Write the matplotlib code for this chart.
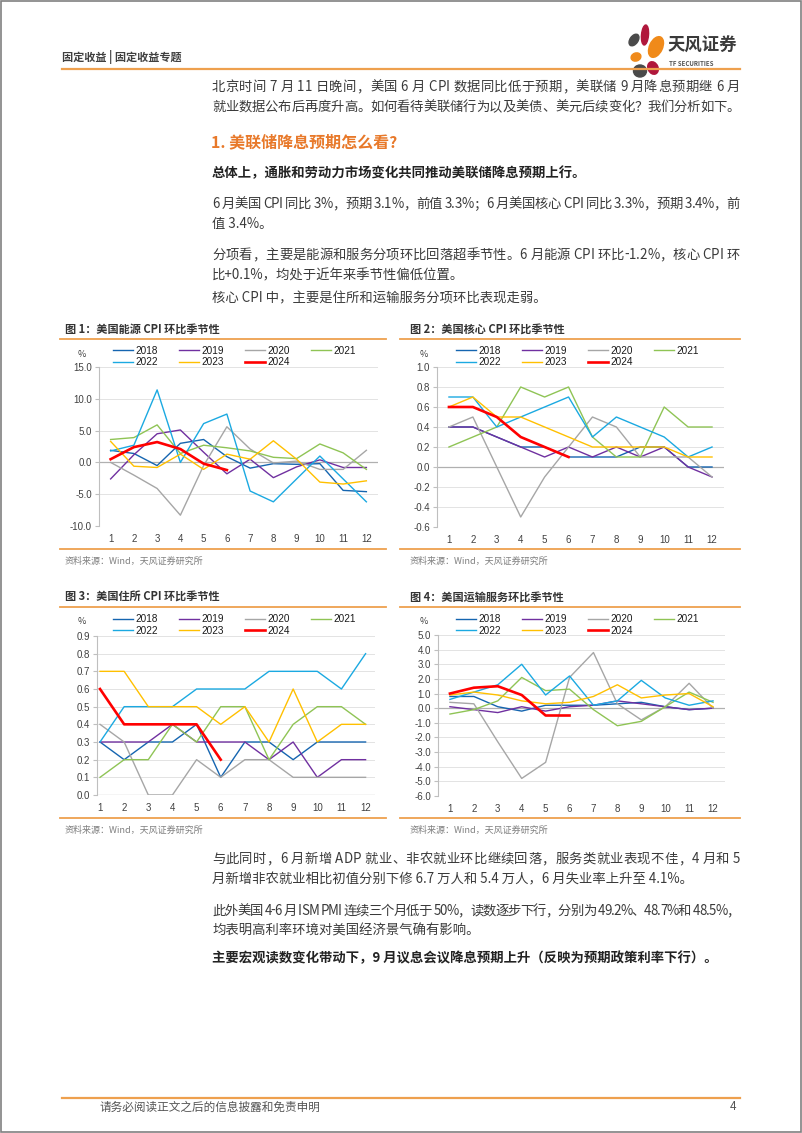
import matplotlib.pyplot as plt
from matplotlib.patches import Ellipse, Rectangle
from matplotlib.lines import Line2D

plt.rcParams['font.family'] = ['Noto Sans CJK SC', 'DejaVu Sans']

months = list(range(1, 13))
years = ['2018', '2019', '2020', '2021', '2022', '2023', '2024']
year_colors = ['#1565b0', '#7030a0', '#a6a6a6', '#8fc455', '#1ba9e1', '#ffc000', '#ff0000']

energy = {
    '2018': [1.9, 1.4, -0.5, 3.0, 3.6, 0.9, -0.9, -0.2, -0.3, -0.2, -4.4, -4.6],
    '2019': [-2.6, 1.2, 4.5, 5.1, 1.6, -1.8, 0.5, -2.4, -0.7, 0.4, -0.8, -0.8],
    '2020': [0.0, -2.0, -4.1, -8.3, -0.5, 5.6, 2.1, -0.1, 0.2, -1.1, -1.1, 1.9],
    '2021': [3.6, 3.9, 5.9, 1.4, 2.7, 2.3, 1.8, 0.8, 0.6, 2.9, 1.5, -1.1],
    '2022': [1.8, 2.7, 11.4, 0.0, 6.1, 7.6, -4.5, -6.2, -2.6, 1.0, -2.6, -6.2],
    '2023': [3.3, -0.6, -0.8, 1.3, -1.1, 1.3, 0.5, 3.4, 0.5, -3.1, -3.4, -2.9],
    '2024': [0.5, 2.4, 3.2, 2.1, -0.2, -1.2],
}
core = {
    '2018': [0.4, 0.4, 0.3, 0.2, 0.2, 0.1, 0.1, 0.1, 0.2, 0.2, 0.0, 0.0],
    '2019': [0.4, 0.4, 0.3, 0.2, 0.1, 0.2, 0.1, 0.2, 0.1, 0.2, 0.0, -0.1],
    '2020': [0.4, 0.5, 0.0, -0.5, -0.1, 0.2, 0.5, 0.4, 0.1, 0.1, 0.1, -0.1],
    '2021': [0.2, 0.3, 0.4, 0.8, 0.7, 0.8, 0.3, 0.1, 0.1, 0.6, 0.4, 0.4],
    '2022': [0.7, 0.7, 0.4, 0.5, 0.6, 0.7, 0.3, 0.5, 0.4, 0.3, 0.1, 0.2],
    '2023': [0.6, 0.7, 0.5, 0.5, 0.4, 0.3, 0.2, 0.2, 0.2, 0.2, 0.1, 0.1],
    '2024': [0.6, 0.6, 0.5, 0.3, 0.2, 0.1],
}
shelter = {
    '2018': [0.3, 0.2, 0.3, 0.3, 0.4, 0.1, 0.3, 0.3, 0.2, 0.3, 0.3, 0.3],
    '2019': [0.3, 0.3, 0.3, 0.4, 0.3, 0.3, 0.3, 0.2, 0.3, 0.1, 0.2, 0.2],
    '2020': [0.4, 0.3, 0.0, 0.0, 0.2, 0.1, 0.2, 0.2, 0.1, 0.1, 0.1, 0.1],
    '2021': [0.1, 0.2, 0.2, 0.4, 0.3, 0.5, 0.5, 0.2, 0.4, 0.5, 0.5, 0.4],
    '2022': [0.3, 0.5, 0.5, 0.5, 0.6, 0.6, 0.6, 0.7, 0.7, 0.7, 0.6, 0.8],
    '2023': [0.7, 0.7, 0.5, 0.5, 0.5, 0.4, 0.5, 0.3, 0.6, 0.3, 0.4, 0.4],
    '2024': [0.6, 0.4, 0.4, 0.4, 0.4, 0.2],
}
transport = {
    '2018': [0.8, 0.8, 0.1, -0.2, 0.2, 0.2, 0.2, 0.3, 0.4, 0.1, -0.1, 0.0],
    '2019': [0.1, -0.1, -0.3, 0.1, -0.2, 0.1, 0.2, 0.5, 0.3, 0.1, -0.1, 0.0],
    '2020': [0.4, 0.3, -2.3, -4.8, -3.7, 2.1, 3.8, 0.3, -0.8, 0.1, 1.7, 0.0],
    '2021': [-0.4, -0.1, 0.5, 2.1, 1.2, 1.3, -0.1, -1.2, -0.9, 0.1, 1.1, 0.4],
    '2022': [0.6, 1.1, 1.6, 3.0, 0.9, 2.2, 0.2, 0.5, 1.9, 0.7, 0.2, 0.5],
    '2023': [0.9, 1.1, 0.9, 0.5, 0.3, 0.4, 0.8, 1.6, 0.7, 0.9, 1.0, 0.1],
    '2024': [1.0, 1.4, 1.5, 0.9, -0.5, -0.5],
}

W, H = 802, 1133
fig = plt.figure(figsize=(W / 100, H / 100), dpi=100)
renderer = fig.canvas.get_renderer()

TXT = '#3a3a3a'
ORANGE = '#eea04e'


def px(x, y):
    return x / W, 1 - y / H


def text(x, y, s, **kw):
    kw.setdefault('va', 'center')
    return fig.text(*px(x, y), s, **kw)


def text_width(s, **kw):
    t = fig.text(0, 0, s, **kw)
    w = t.get_window_extent(renderer).width
    t.remove()
    return w


def justify(x0, x1, y, s, **kw):
    # spread the characters so the line fills x0..x1, like the justified page text
    bar = text_width('||', **kw)
    widths = [text_width('|' + ch + '|', **kw) - bar for ch in s]
    extra = ((x1 - x0) - sum(widths)) / (len(s) - 1)
    x = x0
    for ch, w in zip(s, widths):
        if ch != ' ':
            text(x, y, ch, **kw)
        x += w + extra


def hline(x0, x1, y, color=ORANGE, lw=1.6):
    fig.add_artist(Line2D([x0 / W, x1 / W], [1 - y / H, 1 - y / H], color=color, lw=lw))


def axes_px(l, t, r, b):
    return fig.add_axes([l / W, 1 - b / H, (r - l) / W, (b - t) / H])


# page border
fig.add_artist(Rectangle((0.001, 0.001), 0.998, 0.998, transform=fig.transFigure,
                         fill=False, edgecolor='#808080', lw=1.2))

# header
text(62, 57, '固定收益 | 固定收益专题', fontsize=8, fontweight='bold', color='#404040')
hline(62, 740, 69)

# logo
lg = axes_px(620, 18, 668, 82)
lg.set_xlim(0, 48)
lg.set_ylim(64, 0)
lg.set_aspect('equal')
lg.axis('off')
lg.add_patch(Ellipse((14, 22), 8, 13, angle=35, color='#4a4a4a'))
lg.add_patch(Ellipse((25, 17), 7, 20, angle=5, color='#b0173c'))
lg.add_patch(Ellipse((36, 29), 13, 22, angle=25, color='#f08a1a'))
lg.add_patch(Ellipse((16, 39), 10, 8, angle=-20, color='#f08a1a'))
lg.add_patch(Ellipse((20, 53), 13, 12, angle=0, color='#4a4a4a'))
lg.add_patch(Ellipse((33, 50), 10, 13, angle=-25, color='#b0173c'))
text(668, 46, '天风证券', fontsize=12.5, fontweight='bold', color='#3a3a3a')
text(669, 63, 'TF SECURITIES', fontsize=4.4, fontweight='bold', color='#555555')

# body text
BODY = dict(fontsize=9.6, color=TXT)
BOLD = dict(fontsize=9.6, color='#222222', fontweight='bold')
L, R = 212, 740
justify(L, R, 87, '北京时间 7 月 11 日晚间，美国 6 月 CPI 数据同比低于预期，美联储 9 月降息预期继 6 月', **BODY)
justify(L, R, 107, '就业数据公布后再度升高。如何看待美联储行为以及美债、美元后续变化？我们分析如下。', **BODY)
text(211, 142, '1. 美联储降息预期怎么看?', fontsize=11.5, color='#e8792a', fontweight='bold')
text(L, 173, '总体上，通胀和劳动力市场变化共同推动美联储降息预期上行。', **BOLD)
justify(L, R, 204, '6 月美国 CPI 同比 3%，预期 3.1%，前值 3.3%；6 月美国核心 CPI 同比 3.3%，预期 3.4%，前', **BODY)
text(L, 224, '值 3.4%。', **BODY)
justify(L, R, 255, '分项看，主要是能源和服务分项环比回落超季节性。6 月能源 CPI 环比-1.2%，核心 CPI 环', **BODY)
text(L, 275, '比+0.1%，均处于近年来季节性偏低位置。', **BODY)
text(L, 298, '核心 CPI 中，主要是住所和运输服务分项环比表现走弱。', **BODY)

justify(L, R, 859, '与此同时，6 月新增 ADP 就业、非农就业环比继续回落，服务类就业表现不佳，4 月和 5', **BODY)
text(L, 879, '月新增非农就业相比初值分别下修 6.7 万人和 5.4 万人，6 月失业率上升至 4.1%。', **BODY)
justify(L, R, 911, '此外美国 4-6 月 ISM PMI 连续三个月低于 50%，读数逐步下行，分别为 49.2%、48.7%和 48.5%，', **BODY)
text(L, 931, '均表明高利率环境对美国经济景气确有影响。', **BODY)
text(L, 958, '主要宏观读数变化带动下，9 月议息会议降息预期上升（反映为预期政策利率下行）。', **BOLD)

# footer
hline(62, 740, 1098)
text(100, 1107, '请务必阅读正文之后的信息披露和免责申明', fontsize=8.4, color='#555555')
text(736, 1107, '4', fontsize=8.4, color='#555555', ha='right')


def draw_chart(data, box, xlim, ylim, yticks, title, tx, ty, line_x, src_y, pct_x, legend_x, legend_y):
    ax = axes_px(*box)
    for yr, c in zip(years, year_colors):
        vals = data[yr]
        ax.plot(months[:len(vals)], vals, color=c, lw=1.9 if yr == '2024' else 1.0,
                label=yr, zorder=3 if yr == '2024' else 2)
    ax.set_xlim(*xlim)
    ax.set_ylim(*ylim)
    ax.set_yticks(yticks)
    ax.set_yticklabels(['{:.1f}'.format(v) for v in yticks], fontsize=7, color='#404040',
                       family=['Liberation Sans', 'DejaVu Sans'])
    ax.set_xticks(months)
    ax.set_xticklabels([str(m) for m in months], fontsize=7, color='#404040',
                       family=['Liberation Sans', 'DejaVu Sans'])
    ax.grid(axis='y', color='#e3e3e3', lw=0.7)
    ax.set_axisbelow(True)
    for s in ['top', 'right', 'bottom']:
        ax.spines[s].set_visible(False)
    ax.spines['left'].set_color('#bfbfbf')
    ax.axhline(0, color='#b0b0b0', lw=0.9, zorder=1)
    ax.tick_params(axis='x', length=0, pad=6)
    ax.tick_params(axis='y', length=3, color='#bfbfbf', pad=2)
    # legend filled row by row
    h, l = ax.get_legend_handles_labels()
    order = [0, 4, 1, 5, 2, 6, 3]
    ax.legend([h[i] for i in order], [l[i] for i in order], ncol=4, frameon=False,
              loc='upper left', bbox_to_anchor=px(legend_x, legend_y),
              bbox_transform=fig.transFigure, handlelength=2.0,
              handletextpad=0.25, columnspacing=2.1, labelspacing=0.15,
              borderaxespad=0, borderpad=0,
              prop={'family': ['Liberation Sans', 'DejaVu Sans'], 'size': 7.2})
    for t in ax.get_legend().get_texts():
        t.set_color('#1a1a1a')
    text(pct_x, 354 if ty < 400 else 622, '%', fontsize=6.5, color='#404040')
    text(tx, ty, title, fontsize=8, color='#333333', fontweight='bold')
    hline(line_x[0], line_x[1], ty + 10, lw=1.3)
    hline(line_x[0], line_x[1], src_y - 12, lw=1.3)
    text(tx, src_y, '资料来源：Wind，天风证券研究所', fontsize=6.5, color='#7f7f7f')
    return ax


draw_chart(energy, (99, 367, 378, 526), (0.5, 12.5), (-10, 15), [-10, -5, 0, 5, 10, 15],
           '图 1：美国能源 CPI 环比季节性', 65, 329, (60, 386), 561, 78, 113, 346)
draw_chart(core, (437, 367, 724, 527), (0.5, 12.5), (-0.6, 1.0),
           [-0.6, -0.4, -0.2, 0.0, 0.2, 0.4, 0.6, 0.8, 1.0],
           '图 2：美国核心 CPI 环比季节性', 410, 329, (400, 740), 561, 420, 456, 346)
draw_chart(shelter, (97, 636, 375, 795), (0.875, 12.39), (0.0, 0.9),
           [0.0, 0.1, 0.2, 0.3, 0.4, 0.5, 0.6, 0.7, 0.8, 0.9],
           '图 3：美国住所 CPI 环比季节性', 65, 597, (60, 386), 830, 78, 113, 614)
draw_chart(transport, (438, 635, 725, 796), (0.5, 12.5), (-6, 5),
           [-6, -5, -4, -3, -2, -1, 0, 1, 2, 3, 4, 5],
           '图 4：美国运输服务环比季节性', 410, 597, (400, 740), 830, 420, 456, 614)

fig.savefig('out.png', dpi=100)
